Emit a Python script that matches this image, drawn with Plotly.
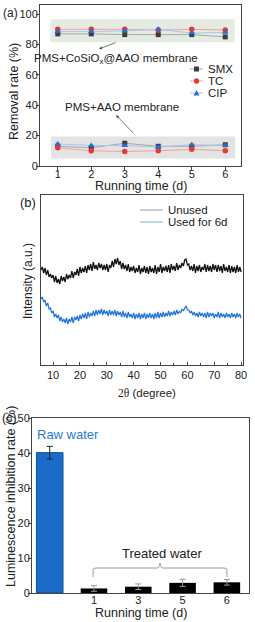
import plotly.graph_objects as go

W, H = 255, 622
FONT = "Liberation Sans, Arial, sans-serif"

# ---------- data (a) ----------
days = [1, 2, 3, 4, 5, 6]
smx_co = [87.0, 87.0, 86.5, 86.5, 86.5, 85.0]
tc_co = [90.0, 90.0, 90.0, 89.5, 90.0, 89.5]
cip_co = [88.5, 88.5, 89.0, 90.0, 87.5, 88.0]
smx_aao = [13.0, 12.0, 15.0, 13.0, 13.0, 14.0]
tc_aao = [12.0, 10.0, 9.5, 10.0, 11.0, 10.0]
cip_aao = [14.5, 13.5, 13.5, 12.5, 14.0, 13.5]

# ---------- data (b) ----------
two_theta_start = 5.0
two_theta_step = 0.5
unused = [99, 95, 98, 92, 97, 90, 95, 88, 91, 87, 90, 83, 89, 82, 86, 81, 89, 84, 88, 83,
          91, 86, 90, 87, 94, 87, 93, 90, 96, 89, 98, 92, 97, 93, 99, 92, 100, 95, 101, 94,
          103, 96, 100, 95, 102, 97, 101, 95, 100, 95, 101, 93, 100, 97, 104, 98, 106, 101, 107, 100,
          104, 96, 102, 96, 100, 94, 101, 93, 98, 94, 99, 92, 97, 93, 100, 91, 97, 93, 99, 92,
          98, 91, 99, 93, 97, 92, 100, 91, 98, 93, 101, 92, 98, 94, 99, 93, 100, 92, 101, 95,
          99, 94, 102, 95, 100, 97, 102, 99, 105, 106, 100, 101, 95, 99, 94, 101, 92, 99, 94, 100,
          93, 98, 95, 101, 93, 100, 94, 99, 93, 101, 95, 100, 93, 100, 94, 99, 92, 101, 94, 98,
          93, 100, 92, 99, 93, 98, 92, 100, 93, 98, 93]
used6d = [71, 66, 68, 63, 65, 59, 62, 56, 57, 52, 54, 48, 51, 47, 50, 44, 48, 43, 46, 42,
          47, 41, 46, 43, 48, 42, 48, 45, 49, 44, 50, 46, 51, 47, 52, 46, 53, 48, 52, 49,
          54, 49, 55, 50, 55, 51, 56, 50, 55, 51, 54, 49, 55, 50, 54, 50, 55, 49, 54, 50,
          53, 48, 54, 48, 52, 47, 53, 48, 51, 47, 52, 46, 51, 47, 52, 46, 51, 47, 52, 46,
          51, 47, 52, 47, 51, 46, 52, 47, 53, 47, 52, 48, 53, 48, 52, 49, 54, 49, 53, 50,
          54, 50, 55, 51, 54, 52, 56, 54, 57, 59, 55, 55, 52, 54, 50, 53, 49, 52, 48, 53,
          49, 52, 48, 52, 47, 53, 48, 52, 49, 52, 47, 51, 48, 53, 47, 52, 48, 51, 47, 52,
          48, 51, 47, 52, 48, 51, 47, 52, 48, 51, 47]
two_theta = [two_theta_start + two_theta_step * i for i in range(len(unused))]

# ---------- data (c) ----------
c_raw_cat = ["raw"]
c_raw_val = [40.1]
c_raw_err = [1.8]
c_cats = ["1", "3", "5", "6"]
c_vals = [1.3, 1.8, 2.9, 3.05]
c_errs = [0.8, 0.8, 1.0, 0.8]


def px(x):
    return x / W


def py(y):
    return 1 - y / H


fig = go.Figure()

# ---- panel a traces ----
series = [
    ("SMX", smx_co, smx_aao, "#a8a8a8", "#3c3c3c", "square", 5),
    ("TC", tc_co, tc_aao, "#f2a3a3", "#e53935", "circle", 5.5),
    ("CIP", cip_co, cip_aao, "#a9c6ee", "#1f6fd6", "triangle-up", 6),
]
for name, top, bot, lc, mc, sym, ms in series:
    for vals in (top, bot):
        fig.add_trace(go.Scatter(x=days, y=vals, mode="lines+markers", name=name,
                                 line=dict(color=lc, width=1),
                                 marker=dict(color=mc, symbol=sym, size=ms),
                                 xaxis="x", yaxis="y", showlegend=False))

# ---- panel b traces ----
fig.add_trace(go.Scatter(x=two_theta, y=unused, mode="lines", name="Unused",
                         line=dict(color="#111111", width=1.3), xaxis="x2", yaxis="y2",
                         showlegend=False))
fig.add_trace(go.Scatter(x=two_theta, y=used6d, mode="lines", name="Used for 6d",
                         line=dict(color="#2073d8", width=1.2), xaxis="x2", yaxis="y2",
                         showlegend=False))

# ---- panel c traces ----
fig.add_trace(go.Bar(x=c_raw_cat, y=c_raw_val, width=0.6,
                     marker=dict(color="#1a6cc8", line=dict(color="#0d4e99", width=1)),
                     error_y=dict(type="data", array=c_raw_err, color="#222222",
                                  thickness=1, width=3),
                     xaxis="x3", yaxis="y3", showlegend=False))
fig.add_trace(go.Bar(x=c_cats, y=c_vals, width=0.6,
                     marker=dict(color="#000000", line=dict(width=0)),
                     error_y=dict(type="data", array=c_errs, color="#999999",
                                  thickness=1, width=3),
                     xaxis="x3", yaxis="y3", showlegend=False))

axis_common = dict(showline=True, linecolor="#444444", linewidth=1, mirror=True,
                   showgrid=False, zeroline=False, automargin=False,
                   tickfont=dict(family=FONT, size=11, color="#222222"))

shapes = []
# bands in panel a
shapes.append(dict(type="rect", xref="x", yref="y", x0=0.78, x1=6.28, y0=81.4, y1=96.6,
                   fillcolor="#e4ebe2", line=dict(width=0), layer="below"))
shapes.append(dict(type="rect", xref="x", yref="y", x0=0.8, x1=6.3, y0=4.9, y1=19.4,
                   fillcolor="#e3e3e3", line=dict(width=0), layer="below"))

annotations = []


def txt(x, y, t, size=11, color="#222222", xanchor="center", angle=0, family=FONT):
    annotations.append(dict(x=px(x), y=py(y), xref="paper", yref="paper", text=t,
                            showarrow=False, xanchor=xanchor, yanchor="middle",
                            textangle=angle,
                            font=dict(family=family, size=size, color=color)))


# legend a (manual)
leg_a = [("SMX", 69, "#a8a8a8", "#3c3c3c", "square"),
         ("TC", 81, "#f2a3a3", "#e53935", "circle"),
         ("CIP", 93, "#a9c6ee", "#1f6fd6", "triangle")]
for name, yy, lc, mc, sym in leg_a:
    shapes.append(dict(type="line", xref="paper", yref="paper", x0=px(190), x1=px(203),
                       y0=py(yy), y1=py(yy), line=dict(color=lc, width=1)))
    cx, cy = 196.5, yy
    if sym == "square":
        shapes.append(dict(type="rect", xref="paper", yref="paper", x0=px(cx - 2.5), x1=px(cx + 2.5),
                           y0=py(cy + 2.5), y1=py(cy - 2.5), fillcolor=mc, line=dict(width=0)))
    elif sym == "circle":
        shapes.append(dict(type="circle", xref="paper", yref="paper", x0=px(cx - 2.7), x1=px(cx + 2.7),
                           y0=py(cy + 2.7), y1=py(cy - 2.7), fillcolor=mc, line=dict(width=0)))
    else:
        shapes.append(dict(type="path", xref="paper", yref="paper",
                           path=f"M {px(cx - 3)} {py(cy + 2.5)} L {px(cx + 3)} {py(cy + 2.5)} L {px(cx)} {py(cy - 3)} Z",
                           fillcolor=mc, line=dict(width=0)))
    txt(206, yy, name, size=11.5, xanchor="left")

# legend b (manual)
for name, yy, lc in [("Unused", 210, "#9a9a9a"), ("Used for 6d", 222, "#7fb2e5")]:
    shapes.append(dict(type="line", xref="paper", yref="paper", x0=px(140), x1=px(163),
                       y0=py(yy), y1=py(yy), line=dict(color=lc, width=1)))
    txt(166, yy, name, size=11.5, xanchor="left")

# arrows panel a
annotations.append(dict(x=px(99), y=py(49), xref="paper", yref="paper", ax=18, ay=-7,
                        showarrow=True, arrowhead=2, arrowsize=0.8, arrowwidth=0.8,
                        arrowcolor="#555555", text=""))
annotations.append(dict(x=px(116), y=py(115), xref="paper", yref="paper", ax=19, ay=20,
                        showarrow=True, arrowhead=2, arrowsize=0.8, arrowwidth=0.8,
                        arrowcolor="#555555", text=""))
txt(116, 59, "PMS+CoSiO<sub>x</sub>@AAO membrane", size=11.5)
txt(122, 107, "PMS+AAO membrane", size=11.5)

# panel labels and axis titles
txt(1, 13, "(a)", size=12, xanchor="left")
txt(18, 203, "(b)", size=13, xanchor="left")
txt(0, 418, "(c)", size=12.5, xanchor="left")

txt(14, 92, "Removal rate (%)", size=12.5, angle=-90)
txt(141, 186, "Running time (d)", size=12.5)
txt(28, 281, "Intensity (a.u.)", size=12, angle=-90)
txt(147, 393, "<span style=\"font-family:'Liberation Serif', serif\">2θ</span> (degree)", size=11.5)
txt(11, 497, "Luminescence inhibition rate (%)", size=12.5, angle=-90)
txt(141, 613, "Running time (d)", size=12.5)

txt(35, 434, "Raw water", size=13, color="#2a7bd6", xanchor="left")
txt(162, 553, "Treated water", size=13)

# bracket
shapes.append(dict(type="path", xref="paper", yref="paper",
                   path=(f"M {px(93)} {py(577)} L {px(93)} {py(570)} Q {px(93)} {py(568)} {px(96)} {py(568)} "
                         f"L {px(157)} {py(568)} Q {px(160)} {py(568)} {px(160)} {py(563)} "
                         f"Q {px(160)} {py(568)} {px(163)} {py(568)} L {px(224)} {py(568)} "
                         f"Q {px(227)} {py(568)} {px(227)} {py(570)} L {px(227)} {py(577)}"),
                   line=dict(color="#9a9a9a", width=1)))

fig.update_layout(
    width=W, height=H, margin=dict(l=0, r=0, t=0, b=0, autoexpand=False),
    paper_bgcolor="white", plot_bgcolor="white",
    showlegend=False, barmode="overlay",
    shapes=shapes, annotations=annotations,
    xaxis=dict(domain=[px(40), px(241)], anchor="y", range=[0.47, 6.47],
               tickvals=days, ticks="outside", ticklen=3, tickcolor="#444444",
               ticklabelstandoff=-5, **axis_common),
    yaxis=dict(domain=[py(166), py(5)], anchor="x", range=[0, 106],
               tickvals=[0, 20, 40, 60, 80, 100], ticks="outside", ticklen=3,
               tickcolor="#444444", ticklabelstandoff=-4, **axis_common),
    xaxis2=dict(domain=[px(41), px(243)], anchor="y2", range=[5.5, 80.7],
                tickvals=[10, 20, 30, 40, 50, 60, 70, 80], ticks="inside", ticklen=3,
                tickcolor="#444444",
                minor=dict(ticks="inside", ticklen=2, dtick=5, tick0=0, tickcolor="#444444"),
                **axis_common),
    yaxis2=dict(domain=[py(365), py(195)], anchor="x2", range=[0, 170],
                showticklabels=False, ticks="", **{k: v for k, v in axis_common.items() if k != "tickfont"}),
    xaxis3=dict(domain=[px(32), px(249)], anchor="y3", type="category",
                categoryorder="array", categoryarray=c_raw_cat + c_cats,
                range=[-0.4, 4.5], tickvals=c_raw_cat + c_cats, ticktext=[""] + c_cats,
                ticks="", ticklabelstandoff=-3, **axis_common),
    yaxis3=dict(domain=[py(593), py(418)], anchor="x3", range=[0, 50],
                tickvals=[0, 10, 20, 30, 40, 50], ticks="outside", ticklen=3,
                tickcolor="#444444", ticklabelstandoff=-4, **axis_common),
)

fig.write_html("out.html", config={"staticPlot": True, "displayModeBar": False},
               post_script="document.body.style.margin='0';document.body.style.overflow='hidden';")
